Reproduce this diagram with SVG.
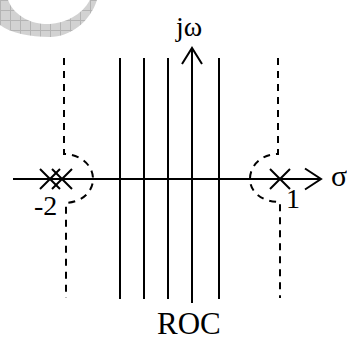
<svg xmlns="http://www.w3.org/2000/svg" width="347" height="341" viewBox="0 0 347 341">
  <style>
    .ln { stroke: #000; stroke-width: 2; fill: none; }
    .ds { stroke: #000; stroke-width: 2; fill: none; stroke-dasharray: 7 6; }
    .t { font-family: "Liberation Serif", "Times New Roman", serif; fill: #000; }
  </style>
  <defs>
    <pattern id="grid" patternUnits="userSpaceOnUse" width="10" height="10">
      <rect width="10" height="10" fill="#d2d2d2"/>
      <path d="M0,0.5 H10 M0.5,0 V10" stroke="#b4b4b4" stroke-width="1"/>
    </pattern>
  </defs>
  <rect width="347" height="341" fill="#fff"/>
  <g id="watermark">
    <path d="M0,0 L8,0 C15,18 35,25 50,24 C65,23 82,15 90,0 L97,0 C90,22 70,37 50,37 C30,37 10,33 0,25 Z" fill="url(#grid)"/>
  </g>
  <g id="connectors">
    <line class="ln" x1="13" y1="179" x2="321" y2="179"/>
    <polyline class="ln" points="305,168.5 321,179 305,189.5"/>
    <line class="ln" x1="192" y1="303" x2="192" y2="48"/>
    <polyline class="ln" points="182,64 192,48 202,64"/>
  </g>
  <g id="roc-lines">
    <line class="ln" x1="120" y1="58" x2="120" y2="299"/>
    <line class="ln" x1="144" y1="58" x2="144" y2="299"/>
    <line class="ln" x1="168" y1="58" x2="168" y2="299"/>
    <line class="ln" x1="219" y1="58" x2="219" y2="299"/>
  </g>
  <g id="left-boundary">
    <path class="ds" d="M64,58 V154 C80,154 93,165 93,179 C93,192 82,202 66,203 V298"/>
  </g>
  <g id="right-boundary">
    <path class="ds" d="M278,58 V154 C262,154 250,165 250,179 C250,192 262,202 280,202 V298"/>
  </g>
  <g id="pole-left">
    <path class="ln" d="M40,169 L60,189 M40,189 L60,169"/>
    <path class="ln" d="M52,169 L72,189 M52,189 L72,169"/>
    <text class="t" x="34" y="215" font-size="28">-2</text>
  </g>
  <g id="pole-right">
    <path class="ln" d="M270,169 L290,189 M270,189 L290,169"/>
    <text class="t" x="286" y="208" font-size="28">1</text>
  </g>
  <text class="t" x="331" y="186" font-size="30">σ</text>
  <text class="t" x="176" y="36" font-size="28">jω</text>
  <text class="t" x="157" y="334" font-size="31">ROC</text>
</svg>
